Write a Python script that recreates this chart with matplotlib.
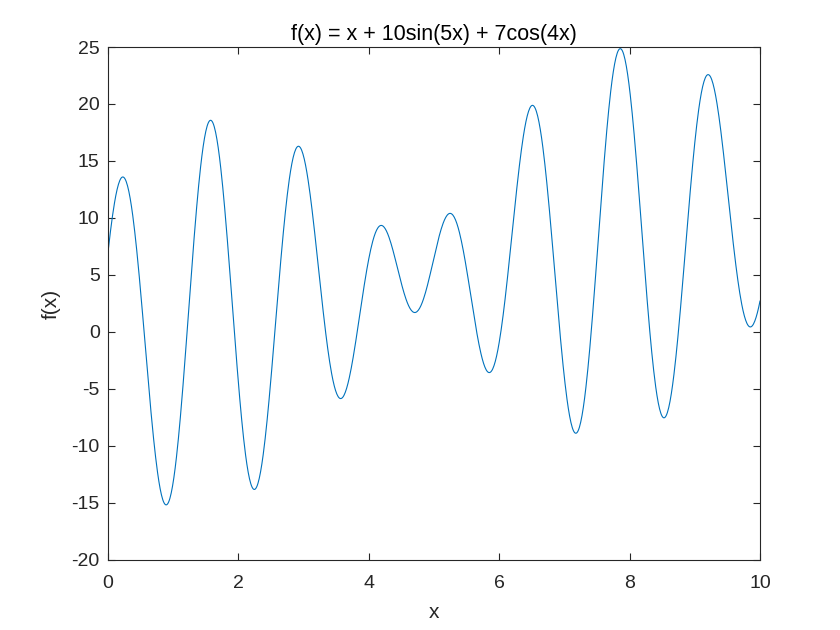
import numpy as np
import matplotlib.pyplot as plt

# the function named in the chart title, sampled like 0:0.01:10
x = np.linspace(0, 10, 1001)
y = x + 10 * np.sin(5 * x) + 7 * np.cos(4 * x)

x_ticks = [0, 2, 4, 6, 8, 10]
y_ticks = [-20, -15, -10, -5, 0, 5, 10, 15, 20, 25]

plt.rcParams["font.family"] = ["Liberation Sans", "DejaVu Sans"]
plt.rcParams["axes.unicode_minus"] = False
axis_color = "#262626"

fig = plt.figure(figsize=(8.4, 6.3), dpi=100)
ax = fig.add_axes([108 / 840, 1 - 560 / 630, (760 - 108) / 840, (560 - 47) / 630])

ax.plot(x, y, color="#0072BD", linewidth=0.8)

ax.set_xlim(0, 10)
ax.set_ylim(-20, 25)
ax.set_xticks(x_ticks)
ax.set_yticks(y_ticks)
ax.tick_params(direction="in", length=5, width=0.8, colors=axis_color,
               labelsize=14, top=True, right=True)
ax.tick_params(axis="x", pad=11)
ax.tick_params(axis="y", pad=6)
for spine in ax.spines.values():
    spine.set_color(axis_color)
    spine.set_linewidth(0.8)

ax.set_xlabel("x", fontsize=15, color=axis_color, labelpad=8)
ax.set_ylabel("f(x)", fontsize=15, color=axis_color, labelpad=8)
ax.set_title("f(x) = x + 10sin(5x) + 7cos(4x)", fontsize=15.5, color="black", pad=5)

fig.savefig("out.png", dpi=100)
